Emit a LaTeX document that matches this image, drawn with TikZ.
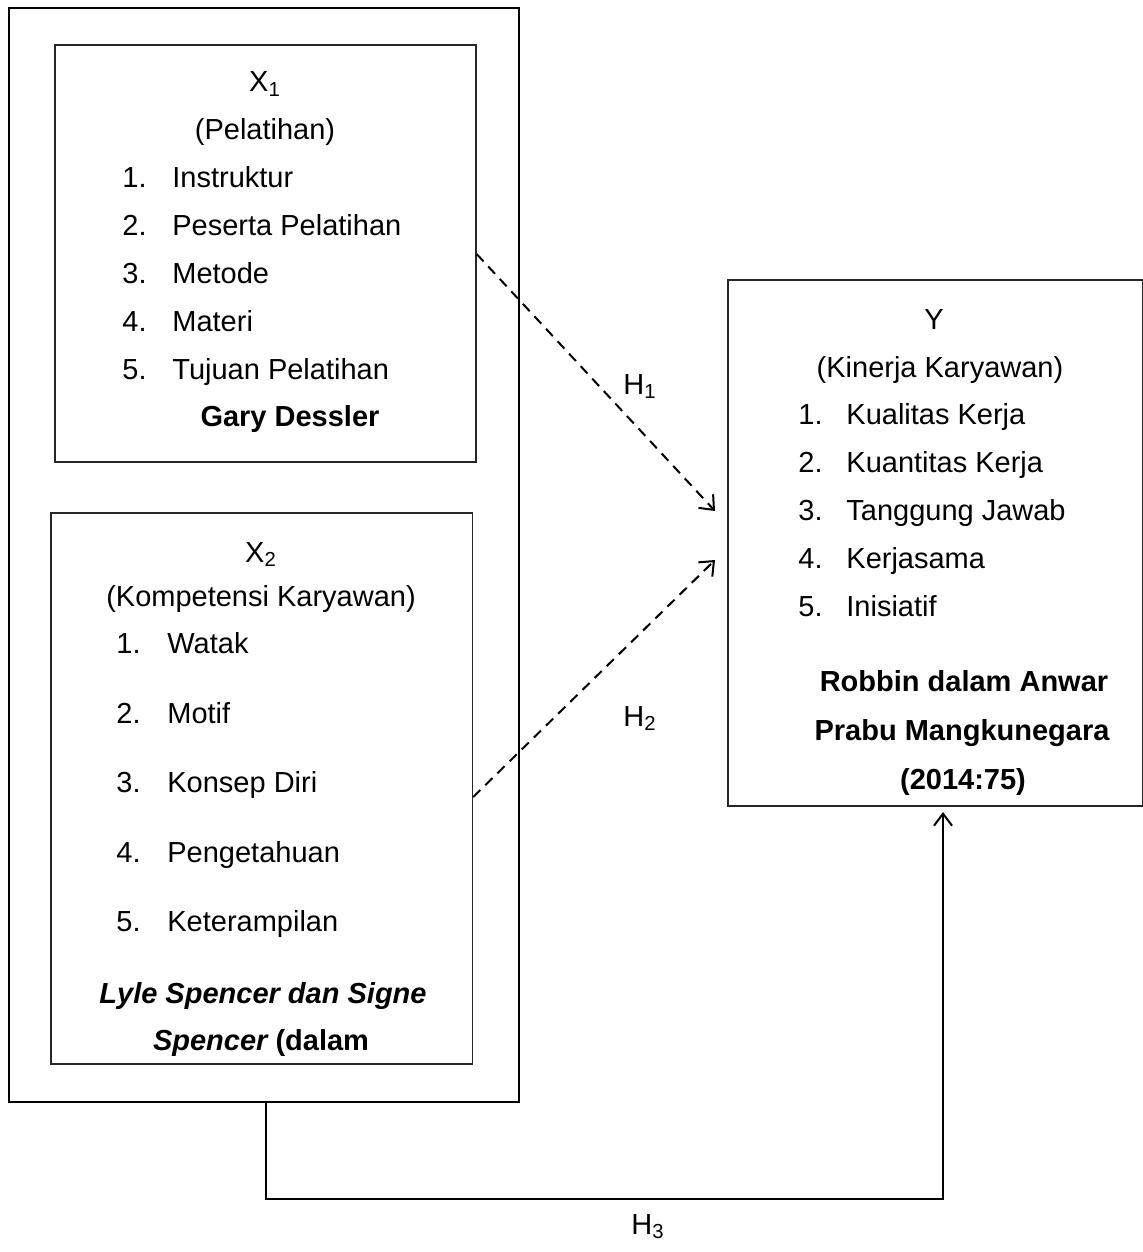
\documentclass[tikz,border=0pt]{standalone}
\usepackage{fontspec}
\setmainfont{Liberation Sans}
\usetikzlibrary{arrows.meta,fit}
\begin{document}
\begin{tikzpicture}[x=0.5pt,y=-0.5pt,
  txt/.style={inner sep=0pt, anchor=base, font=\fontsize{14.5pt}{17pt}\selectfont},
  lft/.style={txt, anchor=base west},
  bx/.style={draw=black!85, line width=0.65pt, inner sep=0pt},
  outerbox/.style={draw, line width=1.4pt, inner sep=0pt},
  dasharrow/.style={dash pattern=on 5pt off 3.5pt, line width=1pt, -{Straight Barb[length=6pt,width=10pt]}},
  solidarrow/.style={line width=1pt, -{Straight Barb[length=6pt,width=9pt]}}]
\useasboundingbox (0,0) rectangle (1143,1252);
% boxes
\node[outerbox, fit={(9,8) (519,1102)}] (outer) {};
\node[bx, fit={(55,45) (476,462)}] (x1) {};
\node[bx, fit={(51,513) (472.5,1064)}] (x2) {};
\node[bx, fit={(728,280) (1143,806)}] (y) {};
% X1 texts
\node[txt] (x1t) at (265,92) {X\textsubscript{1}};
\node[txt] (x1s) at (265,140) {(Pelatihan)};
\node[lft] (x1n1) at (122,187) {1.}; \node[lft] (x1i1) at (172,187) {Instruktur};
\node[lft] (x1n2) at (122,235) {2.}; \node[lft] (x1i2) at (172,235) {Peserta Pelatihan};
\node[lft] (x1n3) at (122,283) {3.}; \node[lft] (x1i3) at (172,283) {Metode};
\node[lft] (x1n4) at (122,331) {4.}; \node[lft] (x1i4) at (172,331) {Materi};
\node[lft] (x1n5) at (122,379) {5.}; \node[lft] (x1i5) at (172,379) {Tujuan Pelatihan};
\node[txt] (x1r) at (290,426) {\bfseries Gary Dessler};
% X2 texts
\node[txt] (x2t) at (261,562) {X\textsubscript{2}};
\node[txt] (x2s) at (261,606) {(Kompetensi Karyawan)};
\node[lft] (x2n1) at (116,653) {1.}; \node[lft] (x2i1) at (167,653) {Watak};
\node[lft] (x2n2) at (116,723) {2.}; \node[lft] (x2i2) at (167,723) {Motif};
\node[lft] (x2n3) at (116,792) {3.}; \node[lft] (x2i3) at (167,792) {Konsep Diri};
\node[lft] (x2n4) at (116,862) {4.}; \node[lft] (x2i4) at (167,862) {Pengetahuan};
\node[lft] (x2n5) at (116,931) {5.}; \node[lft] (x2i5) at (167,931) {Keterampilan};
\node[txt] (x2r1) at (263,1003) {\bfseries\itshape Lyle Spencer dan Signe};
\node[txt] (x2r2) at (261,1050) {\bfseries{\itshape Spencer} (dalam};
% Y texts
\node[txt] (yt) at (934,329) {Y};
\node[txt] (ys) at (940,377) {(Kinerja Karyawan)};
\node[lft] (yn1) at (798,424) {1.}; \node[lft] (yi1) at (846,424) {Kualitas Kerja};
\node[lft] (yn2) at (798,472) {2.}; \node[lft] (yi2) at (846,472) {Kuantitas Kerja};
\node[lft] (yn3) at (798,520) {3.}; \node[lft] (yi3) at (846,520) {Tanggung Jawab};
\node[lft] (yn4) at (798,568) {4.}; \node[lft] (yi4) at (846,568) {Kerjasama};
\node[lft] (yn5) at (798,616) {5.}; \node[lft] (yi5) at (846,616) {Inisiatif};
\node[txt] (yr1) at (964,691) {\bfseries Robbin dalam Anwar};
\node[txt] (yr2) at (962,740) {\bfseries Prabu Mangkunegara};
\node[txt] (yr3) at (963,789) {\bfseries (2014:75)};
% hypothesis labels
\node[txt] (h1) at (640,394) {H\textsubscript{1}};
\node[txt] (h2) at (640,726) {H\textsubscript{2}};
\node[txt] (h3) at (648,1234) {H\textsubscript{3}};
% connectors
\coordinate (h1a) at (x1.east |- 0,254);
\coordinate (h1b) at (715,511);
\coordinate (h2a) at (x2.east |- 0,797);
\coordinate (h2b) at (715,560);
\draw[dasharrow] (h1a) -- (h1b);
\draw[dasharrow] (h2a) -- (h2b);
\coordinate (h3a) at (outer.south -| 266,0);
\coordinate (h3b) at (943,812);
\draw[solidarrow] (h3a) -- (266,1199) -- (943,1199) -- (h3b);
\end{tikzpicture}
\end{document}
